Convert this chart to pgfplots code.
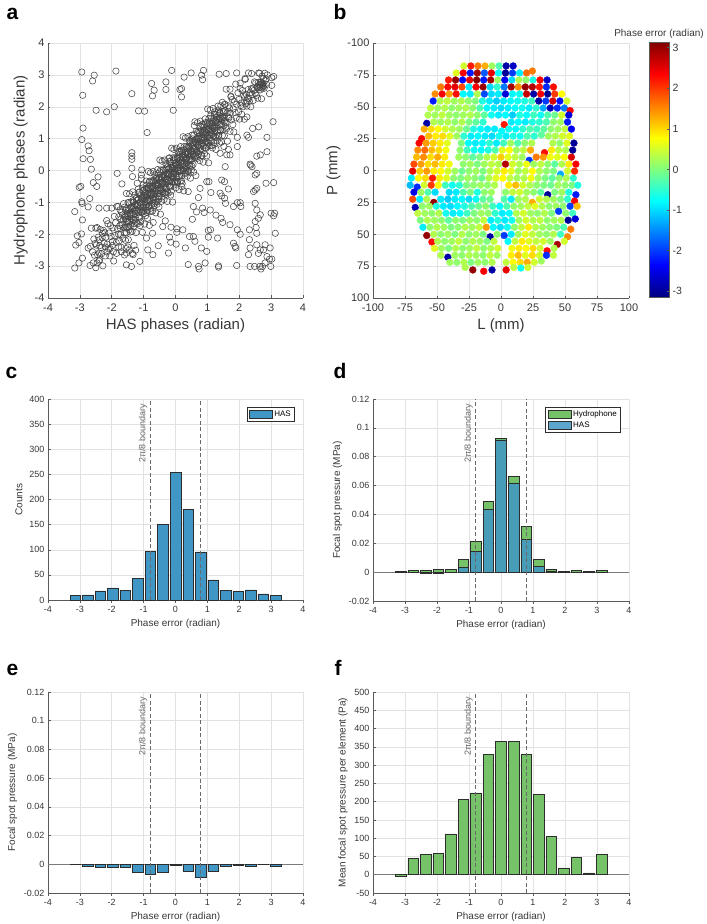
\documentclass[border=0pt]{standalone}
\usepackage{pgfplots}
\pgfplotsset{compat=1.18}
\usepackage{fontspec}
\setmainfont{Liberation Sans}
\definecolor{axc}{RGB}{90,90,90}
\definecolor{txtc}{RGB}{55,55,55}
\definecolor{gridc}{RGB}{226,226,226}
\definecolor{hasblue}{RGB}{64,150,197}
\definecolor{hydgreen}{RGB}{117,194,104}
\definecolor{bndc}{RGB}{105,105,105}
\definecolor{edgec}{RGB}{45,45,45}
\definecolor{scatc}{RGB}{70,70,70}
\tikzset{
 bnd/.style={bndc, line width=0.8pt, dash pattern=on 4pt off 2.5pt},
 bndtxt/.style={shift={(-3pt,-5pt)}, rotate=90, anchor=south east, inner sep=0pt,
   font=\fontsize{9}{10}\selectfont, text=bndc},
}
\pgfplotsset{
 mstyle/.style={
   scale only axis, enlargelimits=false,
   axis x line*=bottom, axis y line*=left,
   axis line style={-, draw=axc, line width=0.6pt},
   grid=major, major grid style={draw=gridc, line width=0.5pt},
   tick align=inside, major tick length=2.5pt,
   tick style={draw=axc, line width=0.5pt},
   ticklabel style={text=txtc},
   label style={text=txtc},
   /pgf/number format/assume math mode=true,
   scaled ticks=false,
 },
 smallfont/.style={
   tick label style={font=\fontsize{9}{10}\selectfont},
   label style={font=\fontsize{10}{12}\selectfont},
 },
 bigfont/.style={
   tick label style={font=\fontsize{11}{12}\selectfont},
   xticklabel style={yshift=-2pt},
   label style={font=\fontsize{15}{17}\selectfont},
 },
 histo/.style={mstyle, smallfont, xmin=-4, xmax=4, xtick={-4,-3,...,4},
   xlabel={Phase error (radian)}, ybar, bar width=0.33, bar shift=0pt},
 barp/.style={draw=edgec, line width=0.5pt, bar width=0.33, bar shift=0pt},
 legbox/.style={legend style={at={(1,1)}, anchor=north east, xshift=-8pt, yshift=-8pt,
   draw=edgec, line width=0.5pt, fill=white, font=\fontsize{8}{9}\selectfont,
   inner xsep=2pt, inner ysep=1.5pt, row sep=0pt, cells={anchor=west}}},
}
\begin{document}
\begin{tikzpicture}
\path[use as bounding box] (0,0) rectangle (707pt,-924pt);
\tikzset{plab/.style={anchor=base west, font=\fontsize{21}{24}\selectfont\bfseries, text=black}}
\node[plab] at (3pt,-19pt) {a};
\node[plab] at (330pt,-19pt) {b};
\node[plab] at (2pt,-378pt) {c};
\node[plab] at (330pt,-378pt) {d};
\node[plab] at (3pt,-675pt) {e};
\node[plab] at (331pt,-675pt) {f};

% ---------------- a ----------------
\begin{axis}[mstyle, bigfont, at={(48pt,-43pt)}, anchor=north west,
  width=255pt, height=255pt, xmin=-4, xmax=4, ymin=-4, ymax=4,
  xtick={-4,-3,...,4}, ytick={-4,-3,...,4},
  xlabel={HAS phases (radian)}, ylabel={Hydrophone phases (radian)}]
\addplot[only marks, mark=o, mark size=3.2pt, mark options={draw=scatc, line width=0.55pt}] coordinates {
(-2.94,3.09) (-2.55,2.99) (-2.60,2.81) (-2.91,2.36) (-1.87,3.12) (-2.49,1.89) (-2.16,1.84) (-1.92,2.00) (-2.90,1.33) (-2.94,0.97)
(-2.74,0.77) (-2.71,0.62) (-2.67,0.35) (-2.90,0.37) (-2.64,0.04) (-2.43,-0.20) (-2.47,-0.50) (-2.58,-0.38) (-3.02,-0.53) (-2.97,-0.50)
(-2.94,-0.98) (-2.93,-1.03) (-2.69,-0.88) (-2.74,-1.14) (-3.16,-1.29) (-2.92,-1.55) (-2.40,-1.18) (-2.16,-1.18) (-3.08,-2.05) (-2.95,-1.99)
(-3.13,-2.34) (-3.03,-2.26) (-2.74,-2.43) (-2.67,-2.38) (-2.92,-2.75) (-3.03,-2.90) (-3.16,-3.06) (-2.68,-2.98) (-2.46,-2.90) (-2.64,-1.81)
(-2.50,-1.81) (-2.38,-2.17) (-2.40,-2.59) (-2.38,-2.80) (-2.29,-1.97)
(-0.75,2.73) (-0.67,2.52) (-0.72,2.34) (-0.30,2.78) (-0.30,2.54) (-0.12,3.14) (-1.37,2.41) (-1.16,1.87) (-0.97,1.86) (-0.89,1.19)
(-1.83,-0.09) (-1.68,-0.42) (-1.37,0.56) (-1.37,0.45) (-1.37,0.35) (-1.37,0.07) (-1.35,-0.19) (-1.06,0.02) (-1.07,-0.14) (-1.20,-0.40)
(-1.01,-0.45) (-0.07,1.89) (-0.70,-1.63) (-0.72,-1.97) (-0.91,-2.12) (-1.12,-2.85) (-1.38,-3.01) (-1.54,-2.96) (-1.33,-2.64) (-1.54,-2.59)
(-1.48,-2.17) (-0.71,-2.64) (-0.87,-2.49) (-0.54,-2.36) (-0.19,-2.09) (-0.15,-2.25) (0.02,-2.31) (-0.22,-2.59) (-0.40,-1.76) (-0.32,-1.58)
(-0.14,-1.78) (0.04,-1.83) (0.04,-1.94) (0.23,-1.86) (0.40,-2.95) (0.72,-3.01) (0.74,-3.09) (0.93,-2.90) (1.35,-3.03) (1.35,-2.99)
(1.92,-2.98) (0.31,-2.43) (0.44,-2.07) (0.56,-2.07) (0.61,-2.22) (0.81,-2.43) (0.98,-2.54) (1.03,-2.09) (0.85,-1.18) (0.90,-1.32)
(1.09,-1.24) (1.03,-1.88) (1.10,-1.86) (0.53,-1.53) (0.56,-1.13) (0.66,-1.30) (0.72,-0.85) (0.98,-0.35) (1.05,-0.35) (1.11,-0.69)
(0.77,-0.56) (0.40,-0.66) (0.20,-0.51) (1.45,-0.30) (1.45,-0.80) (1.54,-0.87) (1.40,-0.71) (1.66,-0.58) (1.27,-1.40) (1.43,-1.50)
(1.48,-1.63) (1.71,-1.70) (1.57,-1.03) (1.82,-1.13) (1.94,-1.01) (2.03,-1.01) (2.05,-1.13) (1.82,-2.28) (1.87,-2.38) (1.89,-2.43)
(1.32,-2.12) (1.94,-1.86) (2.03,-2.00) (2.32,-1.86) (2.32,-2.17) (2.34,-2.43) (2.29,-2.64) (2.34,-3.01) (2.48,-3.01) (2.64,-3.01)
(2.68,-3.09) (2.73,-3.01) (2.81,-2.90) (2.99,-3.01) (2.95,-2.78) (3.02,-2.78) (2.87,-2.70) (2.66,-2.49) (2.76,-2.49) (2.81,-2.33)
(2.55,-2.33) (2.60,-2.60) (2.55,-1.97) (2.53,-1.79) (2.50,-1.60) (2.60,-1.50) (2.66,-1.39) (2.55,-1.24) (2.50,-1.03) (2.45,-0.66)
(2.50,-0.61) (2.55,-0.56) (2.55,-0.09) (2.50,-0.14) (2.66,0.49) (2.55,0.45) (2.36,0.17) (2.34,0.20) (2.40,0.12) (2.87,0.59)
(2.84,-0.40) (3.08,-0.38) (3.06,1.53) (2.87,1.04) (2.61,1.37) (2.42,1.32) (2.29,1.04) (2.24,1.11) (1.94,0.75) (1.66,0.66)
(1.61,0.49) (1.71,0.49) (1.52,0.75) (1.40,0.54) (1.56,0.12) (1.54,-0.35) (1.66,1.68) (2.24,1.68) (2.24,2.15) (2.03,2.57)
(2.18,2.88) (2.29,3.06) (2.39,3.04) (2.61,3.06) (1.92,3.06) (1.59,3.04) (1.37,3.02) (0.88,3.14) (0.82,2.99) (0.85,2.85)
(0.49,3.06) (0.27,2.93) (0.19,2.57) (0.14,2.54) (0.19,2.31) (1.59,2.55) (1.71,2.55) (1.74,2.31) (3.08,2.95) (3.02,2.67)
(2.95,2.41) (3.02,2.91) (3.11,-1.34) (3.08,-1.42) (3.13,-1.97) (3.00,-1.34) (2.97,-2.43)
(-2.60,-2.55) (-2.58,-2.90) (-2.56,-2.15) (-2.54,-2.66) (-2.52,-2.29) (-2.50,-3.05) (-2.48,-2.34) (-2.46,-1.79) (-2.44,-2.65) (-2.42,-2.09)
(-2.40,-2.84) (-2.38,-2.36) (-2.36,-1.85) (-2.34,-2.42) (-2.32,-2.61) (-2.30,-2.11) (-2.28,-2.99) (-2.26,-1.88) (-2.24,-2.27) (-2.22,-1.95)
(-2.20,-2.68) (-2.18,-2.09) (-2.16,-1.57) (-2.14,-2.31) (-2.12,-1.67) (-2.10,-2.46) (-2.08,-1.96) (-2.06,-2.68) (-2.04,-1.73) (-2.02,-2.07)
(-2.00,-1.18) (-1.98,-2.23) (-1.96,-1.80) (-1.94,-2.84) (-1.92,-1.44) (-1.90,-2.04) (-1.88,-1.64) (-1.86,-2.26) (-1.84,-1.13) (-1.82,-1.83)
(-1.80,-1.13) (-1.79,-2.00) (-1.78,-1.45) (-1.77,-2.21) (-1.75,-1.73) (-1.74,-1.23) (-1.73,-1.81) (-1.72,-2.01) (-1.71,-1.52) (-1.70,-2.41)
(-1.69,-1.31) (-1.67,-1.70) (-1.66,-1.39) (-1.65,-2.13) (-1.64,-1.55) (-1.63,-1.04) (-1.62,-1.79) (-1.60,-1.15) (-1.59,-1.95) (-1.58,-1.46)
(-1.57,-2.19) (-1.56,-1.25) (-1.55,-1.60) (-1.54,-0.72) (-1.52,-1.77) (-1.51,-1.35) (-1.50,-2.40) (-1.49,-1.01) (-1.48,-1.62) (-1.47,-1.23)
(-1.46,-1.86) (-1.44,-0.73) (-1.43,-1.44) (-1.42,-1.37) (-1.41,-1.73) (-1.40,-0.99) (-1.39,-1.51) (-1.37,-1.14) (-1.36,-1.91) (-1.35,-1.21)
(-1.34,-0.67) (-1.33,-1.54) (-1.32,-0.99) (-1.31,-1.75) (-1.29,-1.27) (-1.28,-0.77) (-1.27,-1.35) (-1.26,-1.55) (-1.25,-1.06) (-1.24,-1.95)
(-1.22,-0.84) (-1.21,-1.24) (-1.20,-0.93) (-1.19,-1.67) (-1.18,-1.09) (-1.17,-0.58) (-1.16,-1.33) (-1.14,-0.69) (-1.13,-1.49) (-1.12,-1.00)
(-1.11,-1.73) (-1.10,-0.79) (-1.09,-1.14) (-1.07,-0.25) (-1.06,-1.31) (-1.05,-0.89) (-1.04,-1.94) (-1.03,-0.55) (-1.02,-1.16) (-1.01,-0.77)
(-1.00,-1.08) (-0.99,-1.28) (-0.98,-0.79) (-0.97,-1.68) (-0.96,-0.58) (-0.96,-0.99) (-0.95,-0.68) (-0.94,-1.42) (-0.93,-0.84) (-0.92,-0.33)
(-0.91,-1.08) (-0.90,-0.45) (-0.89,-1.25) (-0.88,-0.76) (-0.88,-1.50) (-0.87,-0.56) (-0.86,-0.91) (-0.85,-0.03) (-0.84,-1.09) (-0.83,-0.67)
(-0.82,-1.72) (-0.81,-0.33) (-0.80,-0.94) (-0.80,-0.56) (-0.79,-1.19) (-0.78,-0.07) (-0.77,-0.78) (-0.76,-0.71) (-0.75,-1.07) (-0.74,-0.33)
(-0.73,-0.85) (-0.72,-0.49) (-0.72,-1.27) (-0.71,-0.57) (-0.70,-0.03) (-0.69,-0.90) (-0.68,-0.35) (-0.67,-1.11) (-0.66,-0.64) (-0.65,-0.14)
(-0.64,-0.72) (-0.64,-0.93) (-0.63,-0.44) (-0.62,-1.33) (-0.61,-0.23) (-0.60,-0.63) (-0.59,-0.32) (-0.58,-1.06) (-0.57,-0.48) (-0.56,0.03)
(-0.55,-0.72) (-0.55,-0.10) (-0.54,-0.90) (-0.53,-0.41) (-0.52,-1.14) (-0.51,-0.20) (-0.50,-0.55) (-0.49,0.33) (-0.48,-0.73) (-0.47,-0.31)
(-0.47,-1.37) (-0.46,0.02) (-0.45,-0.59) (-0.44,-0.20) (-0.43,-0.83) (-0.42,0.29) (-0.41,-0.42) (-0.40,-0.35) (-0.39,-0.71) (-0.39,0.02)
(-0.38,-0.50) (-0.37,-0.14) (-0.36,-0.91) (-0.35,-0.21) (-0.34,0.33) (-0.33,-0.54) (-0.32,0.01) (-0.31,-0.75) (-0.31,-0.29) (-0.30,0.21)
(-0.29,-0.37) (-0.28,-0.57) (-0.27,-0.08) (-0.26,-0.97) (-0.25,0.13) (-0.24,-0.27) (-0.23,0.04) (-0.23,-0.71) (-0.22,-0.13) (-0.21,0.38)
(-0.20,-0.11) (-0.19,0.40) (-0.18,-0.35) (-0.17,0.28) (-0.16,-0.52) (-0.16,-0.04) (-0.15,-0.77) (-0.14,0.17) (-0.13,-0.18) (-0.12,0.70)
(-0.11,-0.36) (-0.10,0.06) (-0.09,-0.99) (-0.08,0.40) (-0.08,-0.22) (-0.07,0.17) (-0.06,-0.46) (-0.05,0.66) (-0.04,-0.05) (-0.03,0.02)
(-0.02,-0.34) (-0.01,0.40) (0.00,-0.12) (0.00,0.23) (0.01,-0.54) (0.02,0.16) (0.03,0.70) (0.04,-0.17) (0.05,0.38) (0.06,-0.38)
(0.07,0.09) (0.08,0.59) (0.08,0.00) (0.09,-0.20) (0.10,0.29) (0.11,-0.60) (0.12,0.50) (0.13,0.10) (0.14,0.41) (0.15,-0.33)
(0.16,0.25) (0.16,0.75) (0.17,0.00) (0.18,0.63) (0.19,-0.17) (0.20,0.32) (0.21,-0.41) (0.22,0.53) (0.23,0.18) (0.24,1.06)
(0.25,0.00) (0.25,0.41) (0.26,-0.64) (0.27,0.75) (0.28,0.14) (0.29,0.53) (0.30,-0.10) (0.31,1.02) (0.32,0.31) (0.33,0.38)
(0.33,0.01) (0.34,0.75) (0.35,0.23) (0.36,0.59) (0.37,-0.18) (0.38,0.52) (0.39,1.06) (0.40,0.19) (0.41,0.74) (0.41,-0.03)
(0.42,0.44) (0.43,0.94) (0.44,0.36) (0.45,0.16) (0.46,0.65) (0.47,-0.24) (0.48,0.86) (0.49,0.46) (0.49,0.76) (0.50,0.02)
(0.51,0.60) (0.52,1.11) (0.53,0.36) (0.54,0.99) (0.55,0.19) (0.56,0.68) (0.57,-0.05) (0.57,0.88) (0.58,0.53) (0.59,1.41)
(0.60,0.65) (0.61,1.53) (0.62,0.47) (0.63,0.89) (0.64,-0.16) (0.65,1.23) (0.66,0.62) (0.67,1.01) (0.68,0.38) (0.69,1.50)
(0.70,0.79) (0.71,0.86) (0.72,0.50) (0.73,1.24) (0.74,0.72) (0.75,1.08) (0.76,0.31) (0.77,1.01) (0.78,1.55) (0.79,0.68)
(0.80,1.23) (0.81,0.47) (0.82,0.94) (0.83,1.44) (0.84,0.86) (0.85,0.66) (0.86,1.15) (0.87,0.26) (0.88,1.36) (0.89,0.96)
(0.90,1.27) (0.91,0.53) (0.92,1.11) (0.93,1.62) (0.94,0.87) (0.95,1.50) (0.96,0.70) (0.97,1.19) (0.98,0.46) (0.99,1.40)
(1.00,1.05) (1.01,1.93) (1.02,0.87) (1.03,1.29) (1.04,0.24) (1.05,1.63) (1.06,1.02) (1.07,1.41) (1.08,0.78) (1.09,1.90)
(1.10,1.19) (1.11,1.26) (1.12,0.90) (1.13,1.64) (1.14,1.12) (1.15,1.48) (1.16,0.71) (1.17,1.41) (1.18,1.95) (1.19,1.08)
(1.20,1.63) (1.21,0.87) (1.22,1.34) (1.23,1.84) (1.24,1.26) (1.25,1.06) (1.26,1.55) (1.27,0.66) (1.28,1.76) (1.29,1.36)
(1.30,1.67) (1.31,0.93) (1.32,1.51) (1.33,2.02) (1.34,1.27) (1.35,1.90) (1.36,1.10) (1.37,1.59) (1.38,0.86) (1.39,1.80)
(1.40,1.28) (1.42,1.65) (1.44,0.89) (1.45,1.59) (1.47,2.14) (1.49,1.28) (1.51,1.84) (1.53,1.09) (1.54,1.56) (1.56,2.07)
(1.58,1.50) (1.60,1.31) (1.62,1.81) (1.63,0.92) (1.65,2.03) (1.67,1.64) (1.69,1.96) (1.71,1.23) (1.72,1.81) (1.74,2.33)
(1.76,1.59) (1.78,2.23) (1.80,1.44) (1.81,1.93) (1.83,1.21) (1.85,2.16) (1.87,1.82) (1.89,2.71) (1.90,1.65) (1.92,2.08)
(1.94,1.04) (1.96,2.44) (1.98,1.84) (1.99,2.23) (2.01,1.61) (2.03,2.74) (2.05,2.04) (2.07,2.12) (2.08,1.76) (2.10,2.51)
(2.12,2.00) (2.14,2.37) (2.16,1.61) (2.17,2.31) (2.19,2.86)
(2.20,2.10) (2.22,2.39) (2.24,2.02) (2.26,2.27) (2.28,2.54) (2.30,2.26) (2.32,2.17) (2.34,2.44) (2.36,2.00) (2.38,2.57)
(2.40,2.38) (2.42,2.56) (2.44,2.20) (2.46,2.51) (2.48,2.78) (2.50,2.41) (2.52,2.75) (2.54,2.36) (2.56,2.62) (2.58,2.27)
(2.60,2.76) (2.62,2.59) (2.64,3.05) (2.66,2.53) (2.68,2.76) (2.70,2.25) (2.72,2.96) (2.74,2.67) (2.76,2.88) (2.78,2.58)
(2.80,3.05) (2.82,2.82) (2.84,2.87) (2.86,2.70) (2.88,3.00)
(2.70,2.70) (2.66,2.62) (2.74,2.74) (2.62,2.68) (2.78,2.66) (2.71,2.58) (2.68,2.78) (2.58,2.60) (2.75,2.62) (2.65,2.70)
(-2.20,-2.40) (-2.05,-2.45) (-1.95,-2.55) (-1.85,-2.60) (-2.15,-2.55) (-1.98,-2.35) (-1.78,-2.40) (-1.70,-2.55) (-1.60,-2.65) (-1.55,-2.45)
(-1.45,-2.50) (-1.35,-2.60) (-1.30,-2.35) (-1.25,-2.50)
(-1.60,-1.42) (-1.58,-1.80) (-1.57,-1.53) (-1.55,-1.20) (-1.54,-1.95) (-1.52,-1.40) (-1.50,-1.59) (-1.49,-1.22) (-1.47,-1.78) (-1.46,-1.00)
(-1.44,-1.59) (-1.42,-1.34) (-1.41,-1.93) (-1.39,-1.18) (-1.38,-1.38) (-1.36,-1.62) (-1.34,-0.95) (-1.33,-1.39) (-1.31,-1.16) (-1.30,-1.67)
(-1.28,-1.10) (-1.26,-1.48) (-1.25,-1.21) (-1.23,-0.88) (-1.22,-1.63) (-1.20,-1.08) (-1.18,-1.27) (-1.17,-0.90) (-1.15,-1.46) (-1.14,-0.68)
(-1.12,-1.27) (-1.10,-1.02) (-1.09,-1.61) (-1.07,-0.86) (-1.06,-1.06) (-1.04,-1.30) (-1.02,-0.63) (-1.01,-1.07) (-0.99,-0.84) (-0.98,-1.35)
(-0.96,-0.78) (-0.94,-1.16) (-0.93,-0.89) (-0.91,-0.56) (-0.90,-1.31) (-0.88,-0.76) (-0.86,-0.95) (-0.85,-0.58) (-0.83,-1.14) (-0.82,-0.36)
(-0.80,-0.95) (-0.78,-0.70) (-0.77,-1.29) (-0.75,-0.54) (-0.74,-0.74) (-0.72,-0.98) (-0.70,-0.31) (-0.69,-0.75) (-0.67,-0.52) (-0.66,-1.03)
(-0.64,-0.46) (-0.62,-0.84) (-0.61,-0.57) (-0.59,-0.24) (-0.58,-0.99) (-0.56,-0.44) (-0.54,-0.63) (-0.53,-0.26) (-0.51,-0.82) (-0.50,-0.04)
(-0.48,-0.63) (-0.46,-0.38) (-0.45,-0.97) (-0.43,-0.22) (-0.42,-0.42) (-0.40,-0.66) (-0.38,0.01) (-0.37,-0.43) (-0.35,-0.20) (-0.34,-0.71)
(-0.32,-0.14) (-0.30,-0.52) (-0.29,-0.25) (-0.27,0.08) (-0.26,-0.67) (-0.24,-0.12) (-0.22,-0.31) (-0.21,0.06) (-0.19,-0.50) (-0.18,0.28)
(-0.16,-0.31) (-0.14,-0.06) (-0.13,-0.65) (-0.11,0.10) (-0.10,-0.10) (-0.08,-0.34) (-0.06,0.33) (-0.05,-0.11) (-0.03,0.12) (-0.02,-0.39)
(0.00,0.18) (0.02,-0.20) (0.03,0.07) (0.05,0.40) (0.06,-0.35) (0.08,0.20) (0.10,0.01) (0.11,0.38) (0.13,-0.18) (0.14,0.60)
(0.16,0.01) (0.18,0.26) (0.19,-0.33) (0.21,0.42) (0.22,0.22) (0.24,-0.02) (0.26,0.65) (0.27,0.21) (0.29,0.44) (0.30,-0.07)
(0.32,0.50) (0.34,0.12) (0.35,0.39) (0.37,0.72) (0.38,-0.03) (0.40,0.52) (0.42,0.33) (0.43,0.70) (0.45,0.14) (0.46,0.92)
(0.48,0.33) (0.50,0.58) (0.51,0.14) (0.53,0.89) (0.54,0.69) (0.56,0.45) (0.58,1.12) (0.59,0.68) (0.61,0.91) (0.62,0.40)
(0.64,0.97) (0.66,0.59) (0.67,0.86) (0.69,1.19) (0.70,0.44) (0.72,0.99) (0.74,0.80) (0.75,1.17) (0.77,0.61) (0.78,1.39)
(0.80,0.80) (0.82,1.05) (0.83,0.46) (0.85,1.21) (0.86,1.01) (0.88,0.77) (0.90,1.44) (0.91,1.00) (0.93,1.23) (0.94,0.72)
(0.96,1.29) (0.98,0.91) (0.99,1.18) (1.01,1.51) (1.02,0.76) (1.04,1.31) (1.06,1.12) (1.07,1.49) (1.09,0.93) (1.10,1.71)
(1.12,1.12) (1.14,1.37) (1.15,0.78) (1.17,1.53) (1.18,1.33) (1.20,1.09) (1.22,1.76) (1.23,1.32) (1.25,1.55) (1.26,1.04)
(1.28,1.61) (1.30,1.23) (1.31,1.50) (1.33,1.83) (1.34,1.08) (1.36,1.63) (1.38,1.44) (1.39,1.81) (1.41,1.25) (1.42,2.03)
(1.44,1.44) (1.46,1.69) (1.47,1.10) (1.49,1.85) (1.50,1.65) (1.52,1.41) (1.54,2.08) (1.55,1.64) (1.57,1.87) (1.58,1.36)
};
\end{axis}

% ---------------- b ----------------
\begin{axis}[mstyle, bigfont, at={(373pt,-43pt)}, anchor=north west,
  width=256pt, height=255pt, xmin=-100, xmax=100, ymin=-100, ymax=100, y dir=reverse,
  xtick={-100,-75,...,100}, ytick={-100,-75,...,100},
  xlabel={L (mm)}, ylabel={P (mm)},
  colormap/jet, point meta min=-3.1416, point meta max=3.1416]
\addplot[scatter, only marks, mark=*, mark size=3.4pt, point meta=explicit,
  scatter/use mapped color={draw=mapped color, fill=mapped color}] coordinates {
(-29,-82)[0.5] (-23.5,-82)[2.2] (-18,-82)[1.6] (-12.5,-82)[1.3] (-7,-82)[0.2] (-1.5,-82)[-0.3] (4,-82)[-2.9] (9.5,-82)[-2.7]
(-35,-76.5)[0.6] (-29.5,-76.5)[2.4] (-24,-76.5)[-2.2] (-18.5,-76.5)[2.9] (-13,-76.5)[-1.8] (-7.5,-76.5)[2.5] (-2,-76.5)[-0.8] (3.5,-76.5)[-3.0] (9,-76.5)[-2.0] (14.5,-76.5)[-0.9] (20,-76.5)[1.7] (24.5,-78)[1.6]
(-41,-71)[2.2] (-35.5,-71)[3.0] (-30,-71)[-2.3] (-24.5,-71)[2.5] (-19,-71)[3.1] (-13.5,-71)[-2.2] (-8,-71)[2.9] (-2.5,-71)[0.2] (3,-71)[-2.4] (8.5,-71)[-1.0] (14,-71)[0.3] (19.5,-71)[0.1] (25,-71)[-0.6] (30.5,-71)[2.4] (36,-71)[-2.7]
(-47,-65.5)[1.6] (-41.5,-65.5)[2.3] (-36,-65.5)[2.5] (-30.5,-65.5)[1.9] (-25,-65.5)[-0.9] (-19.5,-65.5)[2.4] (-14,-65.5)[3.0] (-8.5,-65.5)[-1.0] (-3,-65.5)[-0.5] (2.5,-65.5)[-1.6] (8,-65.5)[2.9] (13.5,-65.5)[1.5] (19,-65.5)[3.0] (24.5,-65.5)[2.8] (30,-65.5)[2.2] (35.5,-65.5)[-2.1] (41,-65.5)[2.3]
(-51.5,-60)[1.5] (-46,-60)[2.4] (-40.5,-60)[1.4] (-35,-60)[2.3] (-29.5,-60)[-0.8] (-24,-60)[-0.9] (-18.5,-60)[0.3] (-13,-60)[-1.9] (-7.5,-60)[-1.0] (-2,-60)[-0.9] (3.5,-60)[-2.6] (9,-60)[-0.8] (14.5,-60)[-0.7] (20,-60)[2.7] (25.5,-60)[-2.9] (31,-60)[2.4] (36.5,-60)[-3.0] (42,-60)[2.0] (47.5,-60)[0.8]
(-53,-54.5)[-2.2] (-47.5,-54.5)[0.3] (-42,-54.5)[0.4] (-36.5,-54.5)[0.2] (-31,-54.5)[0.3] (-25.5,-54.5)[0.1] (-20,-54.5)[0.0] (-14.5,-54.5)[-0.6] (-9,-54.5)[-0.9] (-3.5,-54.5)[-1.1] (2,-54.5)[-0.9] (7.5,-54.5)[-0.8] (13,-54.5)[-0.7] (18.5,-54.5)[-0.6] (24,-54.5)[-0.4] (29.5,-54.5)[-2.9] (35,-54.5)[-2.0] (40.5,-54.5)[2.6] (46,-54.5)[-2.3] (51.5,-54.5)[0.5]
(-55,-49)[0.4] (-49.5,-49)[0.2] (-44,-49)[0.3] (-38.5,-49)[0.1] (-33,-49)[0.2] (-27.5,-49)[0.3] (-22,-49)[0.1] (-16.5,-49)[-0.3] (-11,-49)[-0.8] (-5.5,-49)[-0.9] (0,-49)[-1.0] (5.5,-49)[-0.9] (11,-49)[-0.8] (16.5,-49)[-0.7] (22,-49)[-0.9] (27.5,-49)[-0.5] (33,-49)[-1.3] (38.5,-49)[-2.8] (44,-49)[-2.1] (49.5,-49)[-1.6] (54,-47)[2.4]
(-57,-43.5)[0.3] (-51.5,-43.5)[0.2] (-46,-43.5)[0.4] (-40.5,-43.5)[0.2] (-35,-43.5)[0.1] (-29.5,-43.5)[0.2] (-24,-43.5)[0.3] (-18.5,-43.5)[0.1] (-13,-43.5)[-0.2] (-7.5,-43.5)[-0.7] (-2,-43.5)[-0.9] (3.5,-43.5)[-0.8] (9,-43.5)[-1.1] (14.5,-43.5)[-0.6] (20,-43.5)[-0.8] (25.5,-43.5)[-0.4] (31,-43.5)[-0.7] (36.5,-43.5)[-0.3] (42,-43.5)[-0.1] (47.5,-43.5)[0.5] (53,-43.5)[-2.6]
(-58,-37)[-2.9] (-52.5,-38)[0.3] (-47,-38)[0.2] (-41.5,-38)[0.3] (-36,-38)[0.1] (-30.5,-38)[0.3] (-25,-38)[0.0] (-19.5,-38)[-0.2] (-14,-38)[-0.5] (2.5,-36)[2.2] (8,-38)[-0.9] (13.5,-38)[-0.8] (19,-38)[-0.9] (24.5,-38)[-0.6] (30,-38)[-0.5] (35.5,-38)[-0.3] (41,-38)[0.1] (46.5,-38)[0.2] (52,-38)[-2.2]
(-60,-32.5)[1.3] (-54.5,-32.5)[1.0] (-49,-32.5)[0.8] (-43.5,-32.5)[0.5] (-38,-32.5)[0.3] (-32.5,-32.5)[0.2] (-27,-32.5)[-0.1] (-21.5,-32.5)[-0.6] (-16,-32.5)[-0.8] (-10.5,-32.5)[-0.9] (-5,-32.5)[-0.9] (0.5,-31)[-0.8] (6,-32.5)[-0.7] (11.5,-32.5)[-0.8] (17,-32.5)[-0.5] (22.5,-32.5)[-0.3] (28,-32.5)[-0.4] (33.5,-32.5)[-0.2] (39,-32.5)[0.1] (44.5,-32.5)[0.2] (50,-32.5)[0.4] (55,-32.5)[-2.4]
(-62,-25)[2.3] (-56.5,-27)[1.2] (-51,-27)[0.9] (-45.5,-27)[1.0] (-40,-27)[0.6] (-34.5,-27)[0.2] (-29,-27)[-0.5] (-23.5,-27)[-0.9] (-18,-27)[-0.8] (-12.5,-27)[-0.9] (-7,-27)[-1.0] (-1.5,-27)[-0.7] (4,-27)[-0.9] (9.5,-27)[-0.6] (15,-27)[-0.7] (20.5,-27)[-0.3] (26,-27)[-0.5] (31.5,-28)[-0.2] (37,-27)[0.2] (42.5,-27)[0.3] (48,-27)[0.5] (53.5,-27)[0.6]
(-64,-21.5)[2.4] (-58.5,-21.5)[1.4] (-53,-21.5)[1.1] (-47.5,-21.5)[0.9] (-42,-21.5)[0.6] (-31,-21.5)[0.0] (-25.5,-21.5)[-0.8] (-20,-21.5)[-0.9] (-14.5,-21.5)[-0.8] (-9,-21.5)[-0.5] (-3.5,-21.5)[-0.9] (2,-21.5)[-0.4] (7.5,-21.5)[0.2] (13,-21.5)[-0.3] (18.5,-21.5)[0.1] (24,-21.5)[0.3] (40.5,-21.5)[0.3] (46,-21.5)[0.1] (51.5,-21.5)[0.6] (57,-21.5)[-3.0]
(-65,-16)[1.5] (-59.5,-16)[1.7] (-54,-16)[1.2] (-48.5,-16)[1.0] (-43,-16)[0.7] (-32,-16)[0.1] (-26.5,-16)[-0.4] (-21,-16)[-0.7] (-15.5,-16)[-0.8] (-10,-16)[-0.6] (-4.5,-16)[-0.3] (1,-16)[0.6] (6.5,-16)[0.8] (12,-16)[0.2] (17.5,-16)[0.4] (23,-16)[1.3] (34,-14)[2.3] (39.5,-16)[0.9] (45,-16)[0.4] (50.5,-16)[0.3] (56,-16)[-3.0]
(-66,-10.5)[1.2] (-60.5,-10.5)[1.5] (-55,-10.5)[1.0] (-49.5,-10.5)[1.3] (-44,-10.5)[0.9] (-33,-10.5)[0.2] (-27.5,-10.5)[0.1] (-22,-10.5)[-0.2] (-16.5,-10.5)[0.0] (-11,-10.5)[0.3] (-5.5,-10.5)[0.5] (0,-10.5)[1.1] (5.5,-10.5)[0.6] (11,-10.5)[0.4] (16.5,-10.5)[0.2] (22,-8)[-2.0] (27.5,-10.5)[1.6] (33,-10.5)[1.4] (38.5,-10.5)[0.7] (44,-10.5)[0.6] (49.5,-10.5)[0.8] (55,-10.5)[2.6]
(-68,-5)[1.9] (-62.5,-5)[1.4] (-57,-5)[1.0] (-51.5,-5)[1.2] (-46,-5)[0.9] (-40.5,-5)[0.7] (-29.5,-5)[0.1] (-24,-5)[0.2] (-18.5,-5)[0.0] (-13,-5)[0.2] (-7.5,-5)[0.4] (-2,-5)[0.3] (3.5,-5)[2.8] (9,-5)[0.5] (14.5,-5)[0.3] (20,-5)[0.7] (25.5,-5)[0.2] (31,-5)[0.4] (36.5,-5)[0.1] (42,-5)[-0.2] (47.5,-5)[0.3] (53,-5)[0.9] (58.5,-5)[2.4]
(-69,0.5)[2.5] (-63.5,0.5)[1.1] (-58,0.5)[1.4] (-52.5,0.5)[0.9] (-47,0.5)[0.8] (-41.5,0.5)[0.5] (-36,0.5)[0.2] (-30.5,0.5)[-0.1] (-25,0.5)[0.1] (-19.5,0.5)[0.2] (-14,0.5)[0.0] (-8.5,0.5)[0.3] (-3,0.5)[0.5] (2.5,0.5)[0.9] (8,0.5)[0.6] (13.5,0.5)[0.2] (19,0.5)[0.4] (24.5,0.5)[0.8] (30,0.5)[0.3] (35.5,0.5)[0.1] (41,0.5)[0.0] (46.5,3)[-1.3] (52,0.5)[0.5] (57.5,0.5)[2.1]
(-70,6)[-0.9] (-64.5,6)[0.8] (-59,6)[1.0] (-53.5,6)[2.2] (-48,6)[0.9] (-42.5,6)[0.6] (-37,6)[0.1] (-31.5,6)[0.0] (-26,6)[0.2] (-20.5,6)[0.1] (-15,6)[-0.1] (-9.5,6)[0.3] (-4,6)[0.6] (1.5,6)[0.8] (7,6)[0.4] (12.5,6)[0.2] (18,6)[0.3] (23.5,6)[0.7] (29,6)[0.2] (34.5,6)[0.0] (40,6)[-0.2] (45.5,6)[0.1] (51,6)[0.3] (56.5,6)[-0.5]
(-71,11.5)[-1.2] (-65.5,13)[-2.1] (-60,11.5)[0.5] (-54.5,11.5)[2.0] (-49,11.5)[0.8] (-43.5,11.5)[-0.4] (-38,11.5)[-0.7] (-32.5,11.5)[-0.5] (-27,11.5)[0.0] (-21.5,11.5)[0.1] (-16,11.5)[0.2] (-10.5,11.5)[0.1] (-5,11.5)[0.3] (6,11.5)[0.9] (11.5,11.5)[1.2] (17,11.5)[0.5] (22.5,11.5)[0.3] (28,11.5)[0.1] (33.5,11.5)[0.0] (39,11.5)[-0.1] (44.5,11.5)[0.2] (50,11.5)[0.1] (55.5,11.5)[0.0] (60,11.5)[-0.6]
(-68,17)[-2.5] (-62.5,17)[0.2] (-57,17)[-0.3] (-51.5,17)[-1.0] (-40.5,17)[-1.0] (-35,17)[-0.9] (-29.5,17)[-0.3] (-24,17)[0.0] (-18.5,17)[-0.6] (-13,17)[0.1] (-7.5,17)[0.2] (3.5,17)[0.1] (9,17)[0.4] (14.5,17)[0.5] (20,17)[0.2] (25.5,17)[0.1] (31,17)[-0.2] (36.5,19)[-3.0] (42,17)[0.0] (47.5,17)[0.2] (53,17)[-0.6] (58.5,19)[-2.2]
(-69,22.5)[1.9] (-63.5,22.5)[-0.9] (-58,22.5)[0.3] (-52.5,25)[3.0] (-47,22.5)[-0.9] (-41.5,22.5)[-1.1] (-36,22.5)[-0.9] (-30.5,22.5)[-0.8] (-25,22.5)[-1.0] (-19.5,22.5)[-0.7] (-14,22.5)[-0.2] (-8.5,22.5)[-0.1] (2.5,22.5)[-0.3] (8,22.5)[-0.9] (13.5,22.5)[0.2] (19,22.5)[0.3] (24.5,25)[1.3] (30,22.5)[0.5] (35.5,22.5)[0.3] (41,22.5)[0.2] (46.5,22.5)[0.0] (52,22.5)[-0.5] (57.5,24)[2.4]
(-67,29)[-2.8] (-61.5,28)[0.1] (-56,28)[0.2] (-50.5,28)[-0.6] (-45,28)[-0.9] (-39.5,28)[-1.0] (-34,28)[-0.8] (-28.5,28)[-0.6] (-23,28)[-0.3] (-17.5,28)[-0.1] (-12,28)[0.1] (-6.5,28)[-0.4] (-1,28)[-0.8] (4.5,28)[-0.3] (10,28)[0.1] (15.5,28)[0.2] (21,28)[0.4] (26.5,28)[0.6] (32,28)[0.3] (37.5,28)[0.1] (43,28)[0.2] (48.5,28)[0.1] (54,28)[-2.0] (59.5,28)[1.2]
(-65,33.5)[0.4] (-59.5,33.5)[0.2] (-54,33.5)[0.1] (-48.5,33.5)[0.3] (-43,33.5)[-0.7] (-37.5,33.5)[-0.9] (-32,33.5)[-0.8] (-26.5,33.5)[-0.4] (-21,33.5)[0.0] (-15.5,33.5)[0.2] (-10,33.5)[0.1] (-4.5,33.5)[-0.5] (1,33.5)[-0.9] (6.5,33.5)[-0.8] (12,33.5)[0.3] (17.5,33.5)[0.5] (23,33.5)[0.2] (28.5,33.5)[0.1] (34,33.5)[0.3] (39.5,33.5)[0.0] (45,32)[-2.0] (50.5,33.5)[0.1] (56,33.5)[-0.4]
(-63,39)[0.0] (-57.5,39)[0.3] (-52,39)[0.2] (-46.5,39)[0.1] (-41,39)[-0.2] (-35.5,39)[0.1] (-30,39)[0.0] (-24.5,39)[0.2] (-19,39)[0.1] (-13.5,39)[0.4] (-8,39)[-0.9] (-2.5,39)[-0.6] (3,39)[-0.9] (8.5,39)[-0.7] (14,39)[0.2] (19.5,39)[0.5] (25,39)[0.3] (30.5,39)[0.4] (36,39)[0.1] (41.5,39)[0.2] (47,39)[0.3] (52.5,39)[-3.0] (58,38)[-2.6]
(-61,44.5)[-0.9] (-55.5,44.5)[0.1] (-50,44.5)[0.3] (-44.5,44.5)[0.2] (-39,44.5)[0.0] (-33.5,44.5)[0.1] (-28,44.5)[0.3] (-22.5,44.5)[0.2] (-17,44.5)[0.4] (-11.5,44.5)[1.4] (-6,44.5)[-0.8] (-0.5,44.5)[-1.0] (5,44.5)[-0.7] (10.5,44.5)[0.1] (16,44.5)[0.4] (21.5,44.5)[0.9] (27,44.5)[0.3] (32.5,44.5)[0.2] (38,44.5)[0.1] (43.5,44.5)[0.0] (49,44.5)[-0.3] (54.5,46)[1.6]
(-58,51)[3.0] (-52.5,50)[0.3] (-47,50)[0.1] (-41.5,50)[0.2] (-36,50)[0.0] (-30.5,50)[0.3] (-25,50)[0.1] (-19.5,50)[0.2] (-14,50)[0.0] (-8.5,52)[-2.9] (-3,50)[0.1] (2.5,51)[-2.0] (8,50)[-0.9] (13.5,50)[0.2] (19,50)[0.6] (24.5,50)[0.4] (30,50)[0.2] (35.5,50)[0.1] (41,50)[0.3] (46.5,50)[-0.4] (52,52)[1.5]
(-54,56)[2.3] (-49.5,55.5)[0.3] (-44,55.5)[0.1] (-38.5,55.5)[0.2] (-33,55.5)[0.4] (-27.5,55.5)[0.1] (-22,55.5)[0.3] (-16.5,55.5)[0.2] (-11,55.5)[0.0] (-5.5,55.5)[0.4] (5.5,55.5)[-0.8] (11,55.5)[0.4] (16.5,55.5)[0.9] (22,55.5)[0.6] (27.5,55.5)[0.4] (33,55.5)[0.5] (38.5,55.5)[0.2] (44,58)[2.9] (49.5,55.5)[0.5]
(-52,61)[0.6] (-46.5,61)[0.2] (-41,61)[0.0] (-35.5,61)[0.3] (-30,61)[0.1] (-24.5,61)[0.2] (-19,61)[0.4] (-13.5,61)[0.1] (-8,61)[0.3] (-2.5,61)[0.5] (8.5,61)[0.7] (14,61)[0.9] (19.5,61)[0.8] (25,61)[1.0] (30.5,61)[0.5] (36,63)[2.3] (41.5,61)[0.3]
(-47,66.5)[0.3] (-41.5,68)[-2.9] (-36,66.5)[0.2] (-30.5,66.5)[0.1] (-25,66.5)[0.3] (-19.5,66.5)[0.2] (-14,66.5)[0.1] (-8.5,66.5)[0.4] (-3,66.5)[0.2] (8,66.5)[0.9] (13.5,66.5)[1.2] (19,66.5)[0.6] (24.5,66.5)[1.0] (30,66.5)[0.5] (35.5,66.5)[-2.1] (41,66.5)[0.4]
(-40,72)[0.2] (-34.5,72)[0.1] (-29,72)[0.3] (-23.5,72)[0.0] (-18,72)[0.2] (-12.5,72)[0.1] (-7,72)[0.3] (4,72)[0.4] (9.5,72)[0.8] (15,72)[1.0] (20.5,72)[1.3] (26,72)[0.5] (31.5,71)[0.2]
(-28,76)[0.3] (-22,78)[3.0] (-13.5,79)[2.4] (-7,78)[-2.9] (4,78)[2.5] (10,76)[0.4] (15.5,76.5)[-0.7] (21,76)[0.5]
};
\end{axis}

% ---------------- colour bar of b ----------------
\begin{axis}[at={(649pt,-42pt)}, anchor=north west, scale only axis, width=20pt, height=255pt,
  xmin=0, xmax=1, ymin=-3.1416, ymax=3.1416, enlargelimits=false, xtick=\empty,
  ytick={-3,-2,-1,0,1,2,3}, ytick pos=right, yticklabel pos=right,
  tick align=inside, major tick length=2pt, clip=false,
  axis line style={draw=axc, line width=0.5pt}, tick style={draw=axc, line width=0.5pt},
  yticklabel style={font=\fontsize{10.5}{12}\selectfont, text=txtc},
  /pgf/number format/assume math mode=true,
  colormap/jet, point meta min=-3.1416, point meta max=3.1416, axis on top]
\addplot[surf, shader=interp, point meta=y, mesh/cols=2] coordinates {
(0,-3.1416) (1,-3.1416)
(0,-2.3562) (1,-2.3562)
(0,-0.7854) (1,-0.7854)
(0,0.7854) (1,0.7854)
(0,2.3562) (1,2.3562)
(0,3.1416) (1,3.1416)};
\node[anchor=base, font=\fontsize{10}{12}\selectfont, text=txtc, inner sep=0pt] at (axis description cs:0.5,1) [yshift=6pt] {Phase error (radian)};
\end{axis}

% ---------------- c ----------------
\begin{axis}[histo, legbox, at={(48pt,-399pt)}, anchor=north west, width=255pt, height=201pt,
  ymin=0, ymax=400, ytick={0,50,...,400}, ylabel={Counts}]
\addplot[barp, fill=hasblue, forget plot] coordinates {(-3.1416,9) (-2.7489,10) (-2.3562,18) (-1.9635,24) (-1.5708,19) (-1.1781,43) (-0.7854,97) (-0.3927,150) (0,254) (0.3927,181) (0.7854,96) (1.1781,40) (1.5708,19) (1.9635,17) (2.3562,20) (2.7489,12) (3.1416,9)};
\draw[bnd] (axis cs:-0.7854,0) -- (axis cs:-0.7854,400);
\draw[bnd] (axis cs:0.7854,0) -- (axis cs:0.7854,400);
\node[bndtxt] at (axis cs:-0.7854,400) {2π/8 boundary};
\addlegendimage{legend image code/.code={\draw[fill=hasblue,draw=edgec,line width=0.5pt] (0pt,-4pt) rectangle (23pt,4pt);}}
\addlegendentry{HAS}
\end{axis}

% ---------------- d ----------------
\begin{axis}[histo, legbox, at={(373pt,-399pt)}, anchor=north west, width=256pt, height=202pt,
  ymin=-0.02, ymax=0.12, ytick={-0.02,0,0.02,0.04,0.06,0.08,0.1,0.12},
  yticklabel style={/pgf/number format/fixed, /pgf/number format/precision=2},
  ylabel={Focal spot pressure (MPa)}]
\draw[axc!80, line width=0.5pt] (axis cs:-4,0) -- (axis cs:4,0);
\addplot[barp, fill=hydgreen, forget plot] coordinates {(-3.1416,0.0002) (-2.7489,0.0010) (-2.3562,0.0014) (-1.9635,0.0018) (-1.5708,0.0021) (-1.1781,0.0090) (-0.7854,0.0215) (-0.3927,0.0493) (0,0.0927) (0.3927,0.0665) (0.7854,0.0317) (1.1781,0.0090) (1.5708,0.0021) (1.9635,0.0007) (2.3562,0.0013) (2.7489,0.0003) (3.1416,0.0010)};
\addplot[barp, fill=hasblue, fill opacity=0.85, forget plot] coordinates {(-3.1416,0.0003) (-2.7489,-0.0002) (-2.3562,-0.0006) (-1.9635,-0.0005) (-1.5708,-0.0002) (-1.1781,0.0032) (-0.7854,0.0143) (-0.3927,0.0435) (0,0.0917) (0.3927,0.0618) (0.7854,0.0229) (1.1781,0.0039) (1.5708,0.0005) (1.9635,0.0001) (2.3562,-0.0003) (2.7489,0.0001) (3.1416,-0.0002)};
\draw[bnd] (axis cs:-0.7854,-0.02) -- (axis cs:-0.7854,0.12);
\draw[bnd] (axis cs:0.7854,-0.02) -- (axis cs:0.7854,0.12);
\node[bndtxt] at (axis cs:-0.7854,0.12) {2π/8 boundary};
\addlegendimage{legend image code/.code={\draw[fill=hydgreen,draw=edgec,line width=0.5pt] (0pt,-4pt) rectangle (23pt,4pt);}}
\addlegendentry{Hydrophone}
\addlegendimage{legend image code/.code={\draw[fill=hasblue,fill opacity=0.85,draw=edgec,line width=0.5pt] (0pt,-4pt) rectangle (23pt,4pt);}}
\addlegendentry{HAS}
\end{axis}

% ---------------- e ----------------
\begin{axis}[histo, at={(48pt,-692pt)}, anchor=north west, width=255pt, height=201pt,
  ymin=-0.02, ymax=0.12, ytick={-0.02,0,0.02,0.04,0.06,0.08,0.1,0.12},
  yticklabel style={/pgf/number format/fixed, /pgf/number format/precision=2},
  ylabel={Focal spot pressure (MPa)}]
\draw[axc!80, line width=0.5pt] (axis cs:-4,0) -- (axis cs:4,0);
\addplot[barp, fill=hasblue, forget plot] coordinates {(-3.1416,0.0001) (-2.7489,-0.0012) (-2.3562,-0.0020) (-1.9635,-0.0023) (-1.5708,-0.0023) (-1.1781,-0.0058) (-0.7854,-0.0072) (-0.3927,-0.0058) (0,-0.0010) (0.3927,-0.0047) (0.7854,-0.0088) (1.1781,-0.0051) (1.5708,-0.0016) (1.9635,-0.0006) (2.3562,-0.0016) (2.7489,-0.0002) (3.1416,-0.0012)};
\draw[bnd] (axis cs:-0.7854,-0.02) -- (axis cs:-0.7854,0.12);
\draw[bnd] (axis cs:0.7854,-0.02) -- (axis cs:0.7854,0.12);
\node[bndtxt] at (axis cs:-0.7854,0.12) {2π/8 boundary};
\end{axis}

% ---------------- f ----------------
\begin{axis}[histo, at={(373pt,-692pt)}, anchor=north west, width=256pt, height=201pt,
  ymin=-50, ymax=500, ytick={-50,0,50,...,500},
  ylabel={Mean focal spot pressure per element (Pa)}]
\draw[axc!80, line width=0.5pt] (axis cs:-4,0) -- (axis cs:4,0);
\addplot[barp, fill=hydgreen, forget plot] coordinates {(-3.1416,-5) (-2.7489,44) (-2.3562,56) (-1.9635,58) (-1.5708,112) (-1.1781,206) (-0.7854,224) (-0.3927,329) (0,364) (0.3927,364) (0.7854,329) (1.1781,220) (1.5708,104) (1.9635,19) (2.3562,48) (2.7489,5) (3.1416,55)};
\draw[bnd] (axis cs:-0.7854,-50) -- (axis cs:-0.7854,500);
\draw[bnd] (axis cs:0.7854,-50) -- (axis cs:0.7854,500);
\node[bndtxt] at (axis cs:-0.7854,500) {2π/8 boundary};
\end{axis}
\end{tikzpicture}
\end{document}
